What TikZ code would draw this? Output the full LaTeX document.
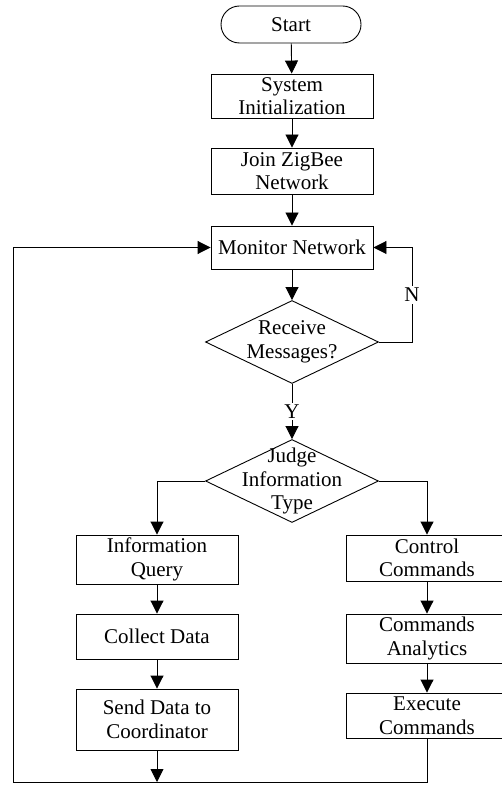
\documentclass[tikz,border=0pt]{standalone}
\usepackage{fontspec}
\setmainfont{Liberation Serif}
\usetikzlibrary{shapes.geometric,shapes.misc,arrows.meta}
\begin{document}
\begin{tikzpicture}[x=1pt,y=-1pt,
  every node/.style={font=\fontsize{21}{23.5}\selectfont, align=center, inner sep=0pt},
  proc/.style={draw, rectangle, minimum width=162pt, line width=0.9pt},
  term/.style={draw, rounded rectangle, minimum width=140pt, minimum height=37pt, line width=0.9pt},
  dec/.style={draw, diamond, minimum width=173pt, minimum height=83pt, line width=0.9pt},
  flow/.style={line width=0.9pt, -{Triangle[width=13pt,length=13pt]}},
  tag/.style={fill=white, inner sep=2pt}]
\clip (0,0) rectangle (502,791);
\useasboundingbox (0,0) rectangle (502,791);

% main column
\node[term] (start) at (291,24.5) {Start};
\node[proc, minimum height=44pt] (init) at (292,96) {System\\Initialization};
\node[proc, minimum height=46pt] (join) at (292,171) {Join ZigBee\\Network};
\node[proc, minimum height=43pt] (mon) at (292,247.5) {Monitor Network};
\node[dec] (recv) at (292,342) {};
\node (recvtxt) at (recv) {Receive\\Messages?};
\node[dec] (judge) at (292,481) {};
\node (judgetxt) at (judge) {Judge\\Information\\Type};

% query branch
\node[proc, minimum height=49pt] (query) at (157,559.5) {Information\\Query};
\node[proc, minimum height=45pt] (collect) at (157,636.5) {Collect Data};
\node[proc, minimum height=61pt] (send) at (157,719.5) {Send Data to\\Coordinator};

% command branch
\node[proc, minimum height=46pt] (ctrl) at (427,558) {Control\\Commands};
\node[proc, minimum height=49pt] (anal) at (427,638.5) {Commands\\Analytics};
\node[proc, minimum height=45pt] (exec) at (427,715.5) {Execute\\Commands};

% helper points for the loops
\coordinate (nx) at (412,0);
\coordinate (bl) at (13,782);

% connectors
\draw[flow] (start) -- (init);
\draw[flow] (init) -- (join);
\draw[flow] (join) -- (mon);
\draw[flow] (mon) -- (recv.north);
\draw[flow] (recv.south) -- node[tag] {Y} (judge.north);
\draw[flow] (recv.east) -- (recv.east -| nx) -- node[tag] {N} (mon.east -| nx) -- (mon.east);
\draw[flow] (judge.west) -| (query.north);
\draw[flow] (judge.east) -| (ctrl.north);
\draw[flow] (query) -- (collect);
\draw[flow] (collect) -- (send);
\draw[flow] (ctrl) -- (anal);
\draw[flow] (anal) -- (exec);
\draw[flow] (send.south) -- (send.south |- bl);
\draw[flow] (exec.south) |- (bl) |- (mon.west);
\end{tikzpicture}
\end{document}
